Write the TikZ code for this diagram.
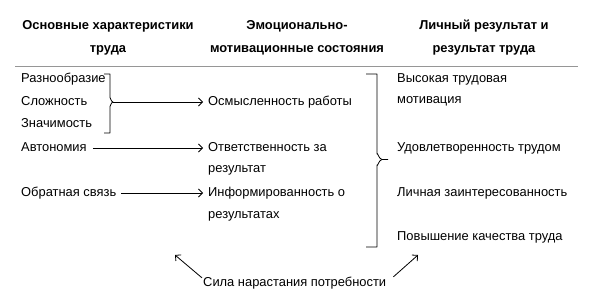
\documentclass[tikz,border=0pt]{standalone}
\usepackage{fontspec}
\setmainfont{Liberation Sans}
\usetikzlibrary{arrows.meta}
\definecolor{rulegray}{RGB}{150,150,150}
\begin{document}
\begin{tikzpicture}[x=1pt,y=-1pt,
  font=\fontsize{12.9}{22}\selectfont,
  lbl/.style={anchor=west, inner sep=0pt, text height=9.2pt, text depth=2.7pt},
  mlbl/.style={anchor=north west, inner sep=0pt, align=left, font=\fontsize{12.9}{21.5}\selectfont},
  hdr/.style={anchor=north, inner sep=0pt, align=center, font=\bfseries\fontsize{12.9}{23}\selectfont},
  arr/.style={line width=0.8pt, -{Straight Barb[length=4pt,width=8pt,line width=0.8pt]}},
  brk/.style={line width=0.8pt, line join=round}]
\useasboundingbox (0,0) rectangle (600,307);

% headers
\node[hdr] (h1) at (108,20.2) {Основные характеристики\\труда};
\node[hdr] (h2) at (297,20.2) {Эмоционально-\\мотивационные состояния};
\node[hdr] (h3) at (484,20.2) {Личный результат и\\результат труда};
\draw[rulegray, line width=1pt] (15,67) -- (578,67);

% left column
\node[lbl] (raz) at (21,79) {Разнообразие};
\node[lbl] (slo) at (21,102) {Сложность};
\node[lbl] (zna) at (21,124) {Значимость};
\node[lbl] (avt) at (21,148) {Автономия};
\node[lbl] (obr) at (21,193) {Обратная связь};

% middle column
\node[lbl] (osm) at (208,102) {Осмысленность работы};
\node[mlbl] (otv) at (208,142.2) {Ответственность за\\результат};
\node[mlbl] (inf) at (208,187.2) {Информированность о\\результатах};

% right column
\node[mlbl] (vys) at (397,73.2) {Высокая трудовая\\мотивация};
\node[lbl] (udo) at (397,148) {Удовлетворенность трудом};
\node[lbl] (lic) at (397,193) {Личная заинтересованность};
\node[lbl] (pov) at (397,237) {Повышение качества труда};

% bottom
\node[lbl] (sila) at (203,283) {Сила нарастания потребности};

% left bracket
\draw[brk] (104,74) -- (110,74) -- (110,98) to[out=90,in=180] (113,102) to[out=180,in=-90] (110,106) -- (110,133) -- (104,133);
\coordinate (lb) at (113,102);
% right bracket
\draw[brk] (366,74) -- (377,74) -- (377,154) to[out=90,in=180] (382,159.5) -- (388,159.5);
\draw[brk] (382,159.5) to[out=180,in=-90] (377,165) -- (377,247) -- (366,247);

% arrows
\draw[arr] (lb) -- ([xshift=-5pt]osm.west);
\draw[arr] ([xshift=6pt]avt.east) -- ([xshift=-5pt,yshift=-5.8pt]otv.north west);
\draw[arr] ([xshift=5pt]obr.east) -- ([xshift=-5pt,yshift=-5.8pt]inf.north west);

\coordinate (la) at (175,255);
\coordinate (ra) at (418,255);
\draw[arr] ([xshift=-1pt,yshift=-1pt]sila.north west) -- (la);
\draw[arr] ([xshift=7pt]sila.north east) -- (ra);
\end{tikzpicture}
\end{document}
